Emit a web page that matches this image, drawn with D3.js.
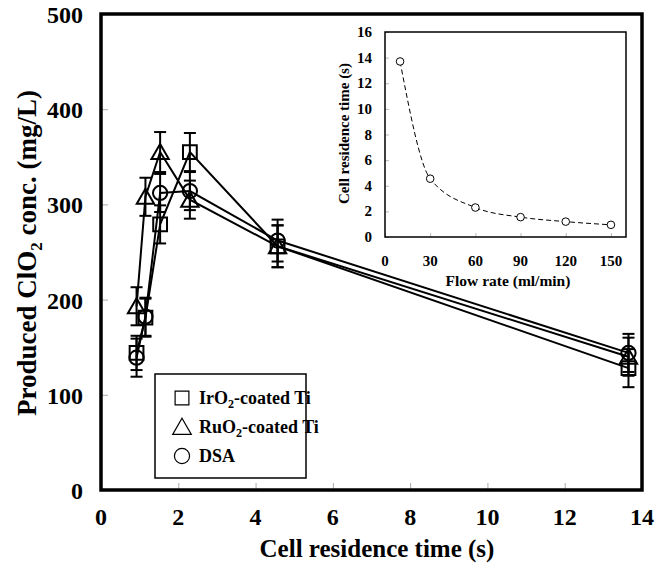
<!DOCTYPE html>
<html>
<head>
<meta charset="utf-8">
<script src="https://cdn.jsdelivr.net/npm/d3@7"></script>
<style>
  html, body { margin: 0; padding: 0; background: #fff; }
  svg text { font-family: "Liberation Serif", "Times New Roman", serif; font-weight: bold; fill: #000; }
</style>
</head>
<body>
<svg id="chart" width="665" height="567"></svg>
<script>
// ---- Data ----
const residenceTime = [0.92, 1.15, 1.53, 2.3, 4.57, 13.65];
const iro2 = [144, 181, 279, 355, 256, 128];
const iro2Err = [18, 20, 20, 20, 22, 20];
const ruo2 = [193, 308, 355, 305, 256, 140];
const ruo2Err = [20, 20, 21, 20, 22, 20];
const dsa = [139, 182, 312, 314, 262, 144];
const dsaErr = [20, 20, 20, 20, 22, 20];
const xTicks = [0, 2, 4, 6, 8, 10, 12, 14];
const yTicks = [0, 100, 200, 300, 400, 500];

// inset
const flowRate = [150, 120, 90, 60, 30, 10];
const insetTime = [0.95, 1.2, 1.55, 2.3, 4.55, 13.7];
const insetXTicks = [0, 30, 60, 90, 120, 150];
const insetYTicks = [0, 2, 4, 6, 8, 10, 12, 14, 16];

const svg = d3.select("#chart");

// ---- Main plot ----
const L = 101, R = 642, T = 14, B = 490;
const x = d3.scaleLinear().domain([0, 14]).range([L, R]);
const y = d3.scaleLinear().domain([0, 500]).range([B, T]);

// inward ticks
const gx = svg.append("g").attr("transform", `translate(0,${B})`)
  .call(d3.axisBottom(x).tickValues(xTicks).tickSize(-7).tickFormat(""));
gx.select(".domain").remove();
gx.selectAll("line").attr("stroke", "#aaa");
const gy = svg.append("g").attr("transform", `translate(${L},0)`)
  .call(d3.axisLeft(y).tickValues(yTicks).tickSize(-7).tickFormat(""));
gy.select(".domain").remove();
gy.selectAll("line").attr("stroke", "#aaa");

// tick labels
svg.append("g").selectAll("text").data(xTicks).join("text")
  .attr("x", d => x(d)).attr("y", 525).attr("text-anchor", "middle")
  .attr("font-size", 24).text(d => d);
svg.append("g").selectAll("text").data(yTicks).join("text")
  .attr("x", 83).attr("y", d => y(d) + 9).attr("text-anchor", "end")
  .attr("font-size", 24).text(d => d);

// axis titles
svg.append("text").attr("x", 377).attr("y", 557).attr("text-anchor", "middle")
  .attr("font-size", 25).text("Cell residence time (s)");
const yt = svg.append("text").attr("transform", `translate(36,253) rotate(-90)`)
  .attr("text-anchor", "middle").attr("font-size", 27);
yt.append("tspan").text("Produced ClO");
yt.append("tspan").attr("font-size", 17).attr("dy", 6).text("2");
yt.append("tspan").attr("dy", -6).text(" conc. (mg/L)");

// series
const series = [
  { name: "IrO2", vals: iro2, err: iro2Err, sym: d3.symbolSquare },
  { name: "RuO2", vals: ruo2, err: ruo2Err, sym: d3.symbolTriangle },
  { name: "DSA", vals: dsa, err: dsaErr, sym: d3.symbolCircle }
];
const line = d3.line().x(d => x(d[0])).y(d => y(d[1]));
series.forEach(s => {
  const pts = residenceTime.map((t, i) => [t, s.vals[i], s.err[i]]);
  svg.append("path").attr("d", line(pts)).attr("fill", "none")
    .attr("stroke", "#000").attr("stroke-width", 2);
});
series.forEach(s => {
  const pts = residenceTime.map((t, i) => [t, s.vals[i], s.err[i]]);
  const g = svg.append("g");
  pts.forEach(p => {
    const cx = x(p[0]);
    g.append("line").attr("x1", cx).attr("x2", cx).attr("y1", y(p[1] - p[2])).attr("y2", y(p[1] + p[2]))
      .attr("stroke", "#000").attr("stroke-width", 2);
    [p[1] - p[2], p[1] + p[2]].forEach(v => {
      g.append("line").attr("x1", cx - 6).attr("x2", cx + 6).attr("y1", y(v)).attr("y2", y(v))
        .attr("stroke", "#000").attr("stroke-width", 2);
    });
  });
});
const symSize = { "IrO2": 190, "RuO2": 130, "DSA": 160 };
series.forEach(s => {
  const pts = residenceTime.map((t, i) => [t, s.vals[i]]);
  svg.append("g").selectAll("path").data(pts).join("path")
    .attr("transform", d => `translate(${x(d[0])},${y(d[1]) + (s.name === "RuO2" ? 2 : 0)})`)
    .attr("d", d3.symbol().type(s.sym).size(symSize[s.name]))
    .attr("fill", "none").attr("stroke", "#000").attr("stroke-width", 2);
});

// frame
svg.append("rect").attr("x", L).attr("y", T).attr("width", R - L).attr("height", B - T)
  .attr("fill", "none").attr("stroke", "#000").attr("stroke-width", 3.5);

// legend
const lg = svg.append("g");
lg.append("rect").attr("x", 155).attr("y", 374).attr("width", 151).attr("height", 104)
  .attr("fill", "#fff").attr("stroke", "#000").attr("stroke-width", 1.5);
const legendItems = [
  { sym: d3.symbolSquare, size: 190, parts: [["IrO", 0], ["2", 1], ["-coated Ti", 0]] },
  { sym: d3.symbolTriangle, size: 150, parts: [["RuO", 0], ["2", 1], ["-coated Ti", 0]] },
  { sym: d3.symbolCircle, size: 180, parts: [["DSA", 0]] }
];
legendItems.forEach((it, i) => {
  const cy = 398 + i * 29;
  lg.append("path").attr("transform", `translate(182,${cy + (i === 1 ? 2 : 0)})`)
    .attr("d", d3.symbol().type(it.sym).size(it.size))
    .attr("fill", "none").attr("stroke", "#000").attr("stroke-width", 1.2);
  const t = lg.append("text").attr("x", 199).attr("y", cy + 6).attr("font-size", 18);
  let sub = false;
  it.parts.forEach(([txt, s]) => {
    const ts = t.append("tspan").text(txt);
    if (s) { ts.attr("font-size", 12).attr("dy", 4); sub = true; }
    else if (sub) { ts.attr("dy", -4); sub = false; }
  });
});

// ---- Inset ----
const iL = 385, iR = 626, iT = 32, iB = 237;
const ix = d3.scaleLinear().domain([0, 160]).range([iL, iR]);
const iy = d3.scaleLinear().domain([0, 16]).range([iB, iT]);

const igx = svg.append("g").attr("transform", `translate(0,${iB})`)
  .call(d3.axisBottom(ix).tickValues(insetXTicks).tickSize(-4).tickFormat(""));
igx.select(".domain").remove();
igx.selectAll("line").attr("stroke", "#bbb");
const igy = svg.append("g").attr("transform", `translate(${iL},0)`)
  .call(d3.axisLeft(iy).tickValues(insetYTicks).tickSize(-4).tickFormat(""));
igy.select(".domain").remove();
igy.selectAll("line").attr("stroke", "#bbb");

svg.append("g").selectAll("text").data(insetXTicks).join("text")
  .attr("x", d => ix(d)).attr("y", 266).attr("text-anchor", "middle")
  .attr("font-size", 15).text(d => d);
svg.append("g").selectAll("text").data(insetYTicks).join("text")
  .attr("x", 372).attr("y", d => iy(d) + 5).attr("text-anchor", "end")
  .attr("font-size", 15).text(d => d);
svg.append("text").attr("x", 508).attr("y", 286).attr("text-anchor", "middle")
  .attr("font-size", 15.5).text("Flow rate (ml/min)");
svg.append("text").attr("transform", `translate(349,${(iT + iB) / 2 - 1}) rotate(-90)`)
  .attr("text-anchor", "middle").attr("font-size", 15).text("Cell residence time (s)");

const ipts = flowRate.map((f, i) => [f, insetTime[i]]).sort((a, b) => a[0] - b[0]);
svg.append("path")
  .attr("d", d3.line().x(d => ix(d[0])).y(d => iy(d[1])).curve(d3.curveMonotoneX)(ipts))
  .attr("fill", "none").attr("stroke", "#000").attr("stroke-width", 1).attr("stroke-dasharray", "5,3");
svg.append("g").selectAll("circle").data(ipts).join("circle")
  .attr("cx", d => ix(d[0])).attr("cy", d => iy(d[1])).attr("r", 3.8)
  .attr("fill", "#fff").attr("stroke", "#000").attr("stroke-width", 1);

svg.append("rect").attr("x", iL).attr("y", iT).attr("width", iR - iL).attr("height", iB - iT)
  .attr("fill", "none").attr("stroke", "#000").attr("stroke-width", 1.5);
</script>
</body>
</html>
